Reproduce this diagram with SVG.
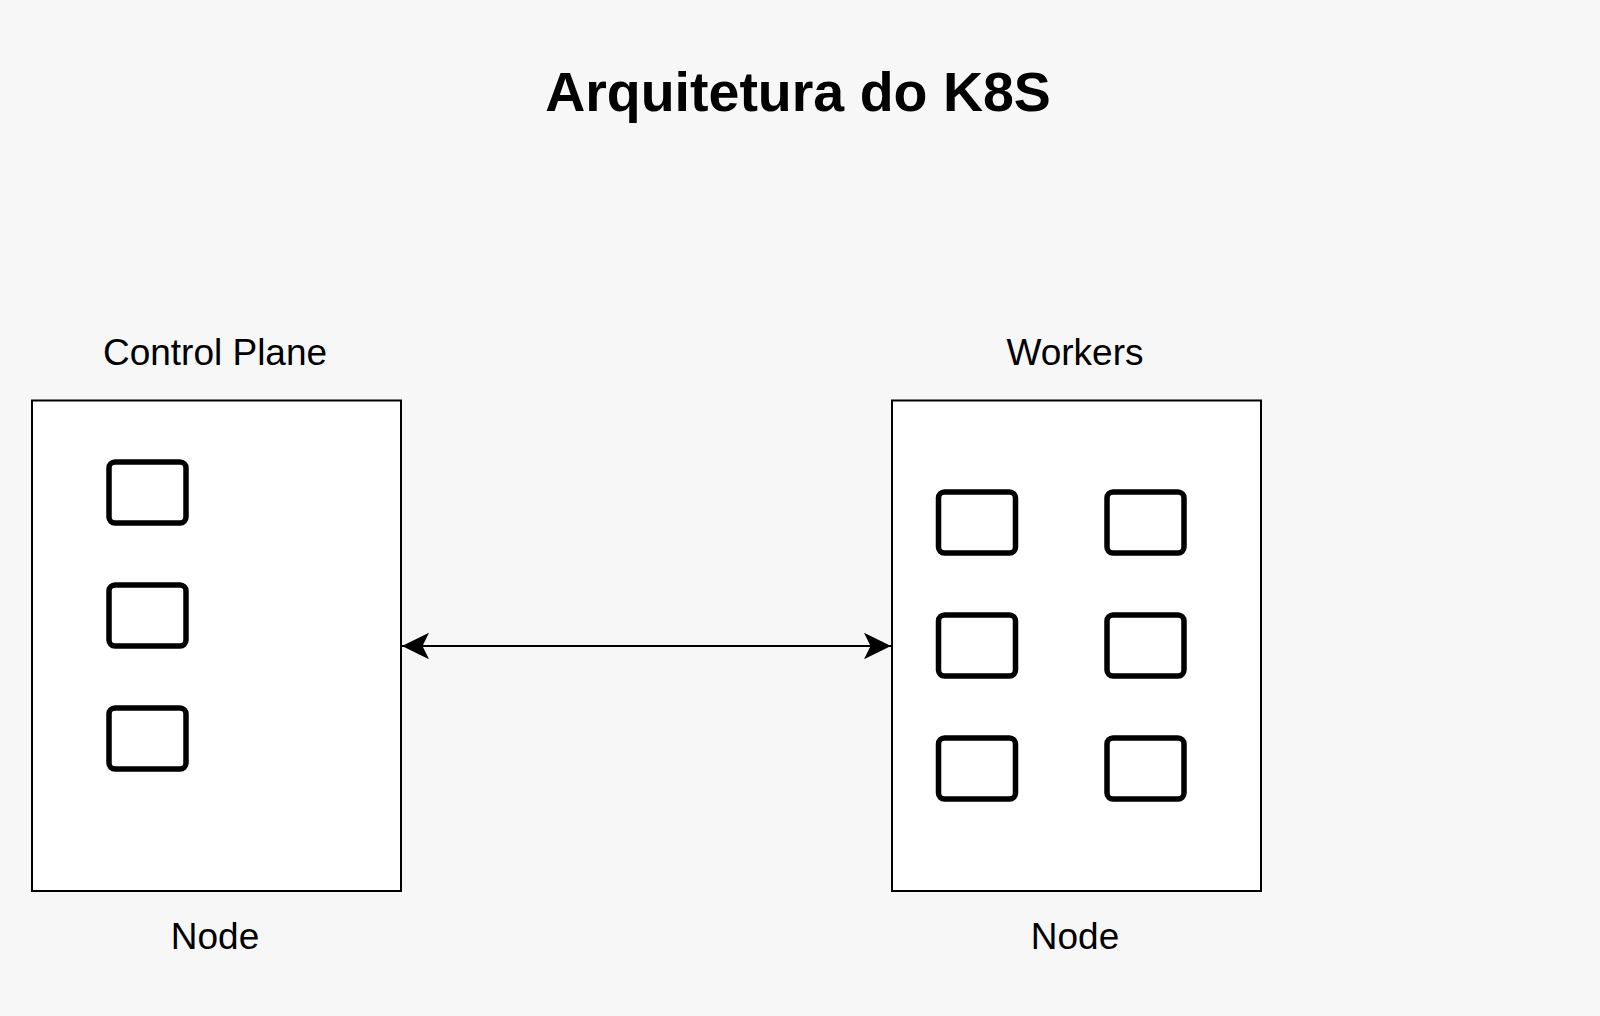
<svg xmlns="http://www.w3.org/2000/svg" width="1600" height="1016" viewBox="0 0 1600 1016">
  <style>
    .bg { fill: #f7f7f7; }
    .node { fill: #ffffff; stroke: #000000; stroke-width: 2; }
    .item { fill: none; stroke: #000000; stroke-width: 5.5; }
    .label { font-family: "Liberation Sans", Arial, sans-serif; font-size: 37px; fill: #000000; text-anchor: middle; }
    .title { font-family: "Liberation Sans", Arial, sans-serif; font-size: 55.5px; font-weight: bold; fill: #000000; text-anchor: middle; }
    .edge { stroke: #000000; stroke-width: 2; fill: none; }
  </style>
  <defs>
    <marker id="arrow" viewBox="-28 -14 29 28" refX="0" refY="0" markerUnits="userSpaceOnUse" markerWidth="29" markerHeight="28" orient="auto-start-reverse">
      <path d="M0,0 L-27,-13.3 L-20.5,0 L-27,13.3 Z" fill="#000000"/>
    </marker>
  </defs>
  <rect class="bg" x="0" y="0" width="1600" height="1016"/>

  <text class="title" x="798" y="111">Arquitetura do K8S</text>

  <g id="control-plane">
    <text class="label" x="215" y="365">Control Plane</text>
    <rect class="node" x="32" y="400.5" width="369" height="490.5"/>
    <rect class="item" x="109" y="462" width="77" height="61" rx="6"/>
    <rect class="item" x="109" y="585" width="77" height="61" rx="6"/>
    <rect class="item" x="109" y="708" width="77" height="61" rx="6"/>
    <text class="label" x="215" y="949">Node</text>
  </g>

  <g id="workers">
    <text class="label" x="1075" y="365">Workers</text>
    <rect class="node" x="892" y="400.5" width="369" height="490.5"/>
    <rect class="item" x="938.5" y="492" width="77" height="61" rx="6"/>
    <rect class="item" x="1107" y="492" width="77" height="61" rx="6"/>
    <rect class="item" x="938.5" y="615" width="77" height="61" rx="6"/>
    <rect class="item" x="1107" y="615" width="77" height="61" rx="6"/>
    <rect class="item" x="938.5" y="738" width="77" height="61" rx="6"/>
    <rect class="item" x="1107" y="738" width="77" height="61" rx="6"/>
    <text class="label" x="1075" y="949">Node</text>
  </g>

  <g id="connectors">
    <line class="edge" x1="402" y1="646" x2="891" y2="646" marker-start="url(#arrow)" marker-end="url(#arrow)"/>
  </g>
</svg>
